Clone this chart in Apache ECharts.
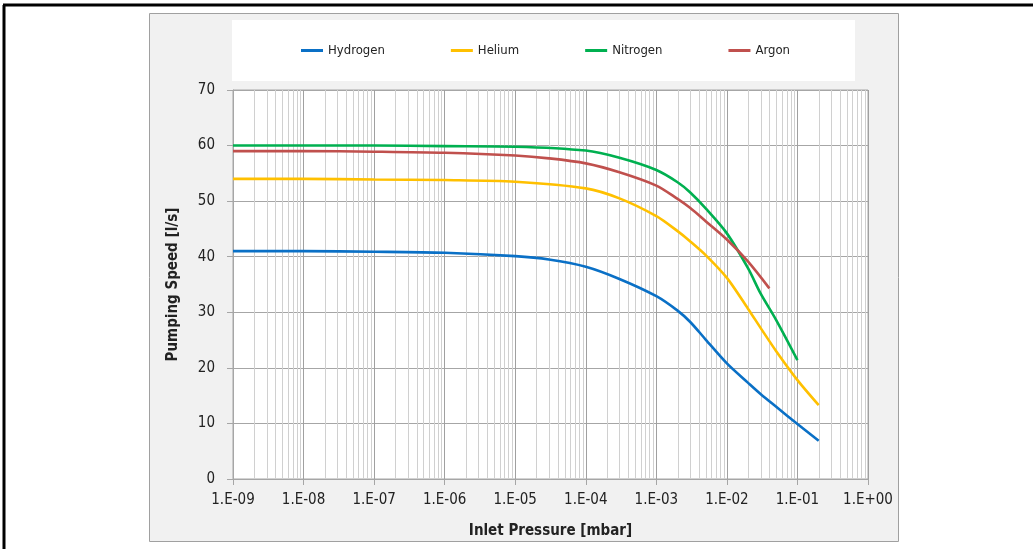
<!DOCTYPE html>
<html><head><meta charset="utf-8">
<script src="https://cdn.jsdelivr.net/npm/echarts@6/dist/echarts.min.js"></script>
<style>html,body{margin:0;padding:0;background:#fff;}#c{width:1033px;height:549px;}</style>
</head><body><div id="c"></div>
<script>
const seriesNames = ['Hydrogen', 'Helium', 'Nitrogen', 'Argon'];
const seriesColors = ['#0a70c6', '#ffc000', '#00b050', '#c0504d'];
const hydrogenP = [1e-9, 1e-8, 1e-7, 1e-6, 1e-5, 3e-5, 1e-4, 3e-4, 1e-3, 2e-3, 3e-3, 5e-3, 1e-2, 2e-2, 3e-2, 5e-2, 1e-1, 2e-1];
const hydrogenS = [41.0, 41.0, 40.9, 40.7, 40.1, 39.5, 38.2, 36.0, 32.9, 30.3, 28.3, 25.1, 20.8, 17.3, 15.3, 13.0, 9.9, 6.9];
const heliumP = [1e-9, 1e-8, 1e-7, 1e-6, 1e-5, 1e-4, 3e-4, 1e-3, 2e-3, 3e-3, 5e-3, 1e-2, 2e-2, 3e-2, 5e-2, 1e-1, 2e-1];
const heliumS = [54.0, 54.0, 53.9, 53.8, 53.5, 52.3, 50.5, 47.3, 44.6, 42.8, 40.3, 36.2, 30.6, 27.2, 23.0, 17.8, 13.3];
const nitrogenP = [1e-9, 1e-8, 1e-7, 1e-6, 1e-5, 1e-4, 3e-4, 1e-3, 2e-3, 3e-3, 5e-3, 1e-2, 2e-2, 3e-2, 5e-2, 1e-1];
const nitrogenS = [60.0, 60.0, 60.0, 59.9, 59.8, 59.1, 57.8, 55.6, 53.4, 51.6, 48.7, 44.2, 37.9, 33.4, 28.6, 21.4];
const argonP = [1e-9, 1e-8, 1e-7, 1e-6, 1e-5, 3e-5, 1e-4, 3e-4, 1e-3, 2e-3, 3e-3, 5e-3, 1e-2, 2e-2, 4e-2];
const argonS = [59.0, 59.0, 58.9, 58.7, 58.2, 57.7, 56.8, 55.2, 52.8, 50.4, 48.8, 46.4, 43.1, 39.1, 34.3];
const xTickLabels = ['1.E-09','1.E-08','1.E-07','1.E-06','1.E-05','1.E-04','1.E-03','1.E-02','1.E-01','1.E+00'];
const yTicks = [0, 10, 20, 30, 40, 50, 60, 70];
const xTitle = 'Inlet Pressure [mbar]';
const yTitle = 'Pumping Speed [l/s]';

const FONT = '"Liberation Sans Narrow", "DejaVu Sans Condensed", "Roboto", sans-serif';
const pressures = [hydrogenP, heliumP, nitrogenP, argonP];
const speeds = [hydrogenS, heliumS, nitrogenS, argonS];

const minorGrid = [];
for (let e = -9; e <= -1; e++) for (let m = 2; m <= 9; m++) minorGrid.push([m * Math.pow(10, e)]);

const chart = echarts.init(document.getElementById('c'), null, { renderer: 'canvas' });
const series = [{
  name: '_minor', type: 'custom', silent: true, z: 1,
  encode: { x: 0 },
  data: minorGrid,
  renderItem: function (params, api) {
    const v = api.value(0);
    const p0 = api.coord([v, yTicks[0]]);
    const p1 = api.coord([v, yTicks[yTicks.length - 1]]);
    const x = Math.round(p0[0]) + 0.5;
    return { type: 'line', shape: { x1: x, y1: p0[1], x2: x, y2: p1[1] }, style: { stroke: '#d0d0d0', lineWidth: 1 } };
  }
}];
seriesNames.forEach((n, i) => {
  series.push({
    name: n, type: 'line', smooth: 0.3, showSymbol: false, symbol: 'none', z: 3,
    lineStyle: { color: seriesColors[i], width: 2.6 }, itemStyle: { color: seriesColors[i] },
    data: pressures[i].map((p, j) => [p, speeds[i][j]])
  });
});

chart.setOption({
  animation: false,
  backgroundColor: '#fff',
  graphic: [
    { type: 'rect', z: -10, shape: { x: 149.5, y: 13.5, width: 749, height: 528 }, style: { fill: '#f1f1f1', stroke: '#a0a0a0', lineWidth: 1 } },
    { type: 'rect', z: -9, shape: { x: 232, y: 20, width: 623, height: 61 }, style: { fill: '#ffffff' } },
    { type: 'line', z: -8, shape: { x1: 3, y1: 5, x2: 1033, y2: 5 }, style: { stroke: '#000', lineWidth: 3 } },
    { type: 'line', z: -8, shape: { x1: 4, y1: 5, x2: 4, y2: 549 }, style: { stroke: '#000', lineWidth: 3 } }
  ],
  legend: {
    data: seriesNames, left: 296, top: 39, icon: 'rect', itemWidth: 22, itemHeight: 3, itemGap: 66,
    textStyle: { fontFamily: FONT, fontSize: 13, color: '#222' }
  },
  grid: { left: 233, top: 90, right: 165, bottom: 70, show: true, backgroundColor: '#fff', borderColor: '#a6a6a6', borderWidth: 1 },
  xAxis: {
    type: 'log', logBase: 10, min: 1e-9, max: 1,
    name: xTitle, nameLocation: 'middle', nameGap: 45,
    nameTextStyle: { fontFamily: FONT, fontSize: 15, fontWeight: 'bold', color: '#222' },
    axisLine: { show: true, lineStyle: { color: '#a6a6a6' } },
    axisTick: { show: true, length: 6, lineStyle: { color: '#a6a6a6' } },
    axisLabel: { margin: 14, fontFamily: FONT, fontSize: 15, color: '#222',
      formatter: v => xTickLabels[Math.round(Math.log10(v)) + 9] },
    splitLine: { show: true, lineStyle: { color: '#a0a0a0', width: 1 } }
  },
  yAxis: {
    type: 'value', min: yTicks[0], max: yTicks[yTicks.length - 1], interval: 10,
    name: yTitle, nameLocation: 'middle', nameGap: 52, nameRotate: 90,
    nameTextStyle: { fontFamily: FONT, fontSize: 15, fontWeight: 'bold', color: '#222' },
    axisLine: { show: true, lineStyle: { color: '#a6a6a6' } },
    axisTick: { show: true, length: 6, lineStyle: { color: '#a6a6a6' } },
    axisLabel: { margin: 18, fontFamily: FONT, fontSize: 15, color: '#222' },
    splitLine: { show: true, lineStyle: { color: '#a6a6a6', width: 1 } }
  },
  series: series
});
</script></body></html>
